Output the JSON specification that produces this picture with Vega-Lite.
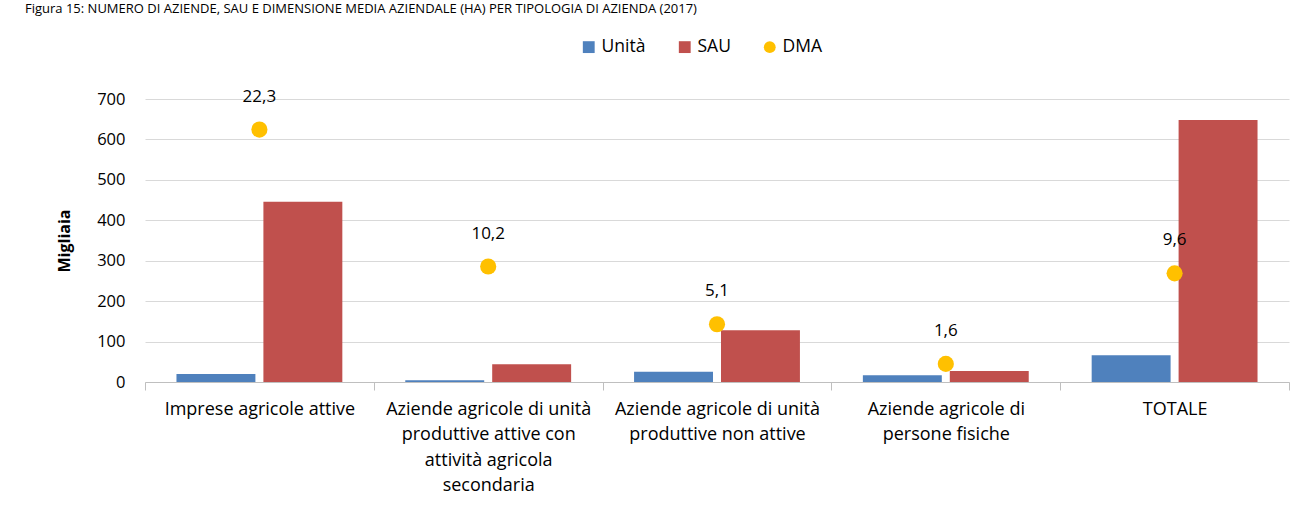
{
  "$schema": "https://vega.github.io/schema/vega-lite/v6.json",
  "width": 1144,
  "height": 283,
  "autosize": {"type": "none"},
  "padding": {"left": 145, "top": 99, "right": 21, "bottom": 133},
  "background": "white",
  "config": {
    "locale": {"number": {"decimal": ",", "thousands": ".", "grouping": [3], "currency": ["", " €"]}},
    "font": "Open Sans",
    "view": {"stroke": null},
    "axis": {"labelColor": "#000000", "titleColor": "#000000", "labelFont": "Open Sans", "titleFont": "Open Sans"},
    "legend": {"labelFont": "Open Sans", "labelColor": "#000000"}
  },
  "title": {
    "text": "Figura 15: NUMERO DI AZIENDE, SAU E DIMENSIONE MEDIA AZIENDALE (HA) PER TIPOLOGIA DI AZIENDA (2017)",
    "anchor": "start",
    "frame": "group",
    "fontSize": 13,
    "fontWeight": "normal",
    "color": "#000000",
    "dx": -120,
    "offset": 22
  },
  "datasets": {
    "barre": [
      {"tipologia": "Imprese agricole attive", "serie": "Unità", "valore": 19.8},
      {"tipologia": "Imprese agricole attive", "serie": "SAU", "valore": 446},
      {"tipologia": "Aziende agricole di unità|produttive attive con|attività agricola|secondaria", "serie": "Unità", "valore": 4.3},
      {"tipologia": "Aziende agricole di unità|produttive attive con|attività agricola|secondaria", "serie": "SAU", "valore": 44},
      {"tipologia": "Aziende agricole di unità|produttive non attive", "serie": "Unità", "valore": 25.5},
      {"tipologia": "Aziende agricole di unità|produttive non attive", "serie": "SAU", "valore": 128},
      {"tipologia": "Aziende agricole di|persone fisiche", "serie": "Unità", "valore": 16.8},
      {"tipologia": "Aziende agricole di|persone fisiche", "serie": "SAU", "valore": 27},
      {"tipologia": "TOTALE", "serie": "Unità", "valore": 66.4},
      {"tipologia": "TOTALE", "serie": "SAU", "valore": 648}
    ],
    "dma": [
      {"tipologia": "Imprese agricole attive", "serie": "DMA", "dma": 22.3},
      {"tipologia": "Aziende agricole di unità|produttive attive con|attività agricola|secondaria", "serie": "DMA", "dma": 10.2},
      {"tipologia": "Aziende agricole di unità|produttive non attive", "serie": "DMA", "dma": 5.1},
      {"tipologia": "Aziende agricole di|persone fisiche", "serie": "DMA", "dma": 1.6},
      {"tipologia": "TOTALE", "serie": "DMA", "dma": 9.6}
    ]
  },
  "layer": [
    {
      "data": {"name": "barre"},
      "mark": {"type": "bar"},
      "encoding": {
        "x": {
          "field": "tipologia",
          "type": "nominal",
          "sort": null,
          "scale": {"paddingInner": 0, "paddingOuter": 0},
          "axis": {
            "title": null,
            "labelAngle": 0,
            "labelExpr": "split(datum.label, '|')",
            "labelFontSize": 18,
            "labelLineHeight": 25.5,
            "labelLimit": 0,
            "labelPadding": 10,
            "labelBaseline": "top",
            "tickBand": "extent",
            "ticks": true,
            "tickSize": 8,
            "tickColor": "#BFBFBF",
            "domainColor": "#BFBFBF",
            "domainWidth": 1,
            "grid": false
          }
        },
        "xOffset": {
          "field": "serie",
          "type": "nominal",
          "scale": {"domain": ["Unità", "SAU"], "paddingInner": 0.092, "paddingOuter": 0.362}
        },
        "y": {
          "field": "valore",
          "type": "quantitative",
          "scale": {"domain": [0, 700], "nice": false},
          "axis": {
            "title": "Migliaia",
            "titleFontSize": 16,
            "titleFontWeight": "bold",
            "titlePadding": 24,
            "values": [0, 100, 200, 300, 400, 500, 600, 700],
            "labelFontSize": 16.5,
            "labelPadding": 20,
            "domain": false,
            "ticks": false,
            "grid": true,
            "gridColor": "#D9D9D9",
            "gridWidth": 1
          }
        },
        "color": {
          "field": "serie",
          "type": "nominal",
          "scale": {"domain": ["Unità", "SAU", "DMA"], "range": ["#4F81BD", "#C0504D", "#FFC000"]},
          "legend": {
            "title": null,
            "orient": "none",
            "direction": "horizontal",
            "legendX": 435,
            "legendY": -61,
            "labelFontSize": 17.5,
            "symbolSize": 140,
            "labelOffset": 4,
            "columnPadding": 30,
            "symbolStrokeWidth": 0
          }
        }
      }
    },
    {
      "data": {"name": "dma"},
      "mark": {"type": "point", "filled": true, "opacity": 1},
      "encoding": {
        "x": {"field": "tipologia", "type": "nominal", "sort": null},
        "y": {"field": "dma", "type": "quantitative", "scale": {"domain": [0, 25], "nice": false}, "axis": null},
        "color": {"field": "serie", "type": "nominal"},
        "shape": {
          "field": "serie",
          "type": "nominal",
          "scale": {"domain": ["Unità", "SAU", "DMA"], "range": ["square", "square", "circle"]},
          "legend": {
            "title": null,
            "orient": "none",
            "direction": "horizontal",
            "legendX": 435,
            "legendY": -61,
            "labelFontSize": 17.5,
            "symbolSize": 140,
            "labelOffset": 4,
            "columnPadding": 30,
            "symbolStrokeWidth": 0
          }
        },
        "size": {"value": 260}
      }
    },
    {
      "data": {"name": "dma"},
      "mark": {"type": "text", "dy": -33, "fontSize": 17, "color": "#000000", "baseline": "middle", "align": "center"},
      "encoding": {
        "x": {"field": "tipologia", "type": "nominal", "sort": null},
        "y": {"field": "dma", "type": "quantitative", "scale": {"domain": [0, 25], "nice": false}, "axis": null},
        "text": {"field": "dma", "type": "quantitative", "format": ".1f"}
      }
    }
  ],
  "resolve": {"scale": {"y": "independent"}}
}
